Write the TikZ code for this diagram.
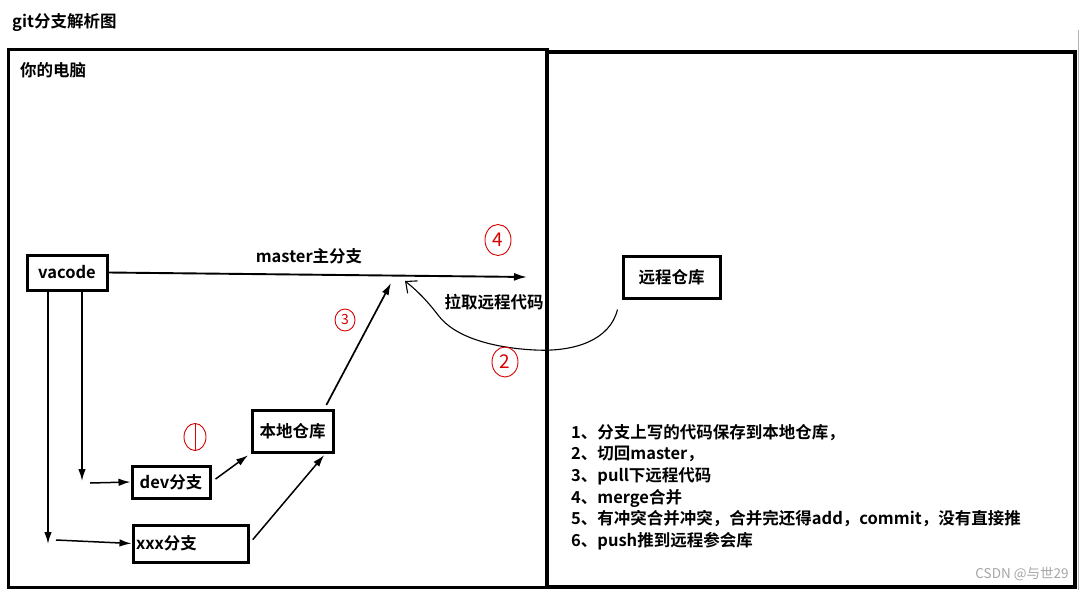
\documentclass[tikz,border=0pt]{standalone}
\usepackage{fontspec}
\setmainfont{Noto Sans CJK SC}[BoldFont=* Bold]
\usetikzlibrary{arrows.meta,shapes.geometric,calc}
\begin{document}
\begin{tikzpicture}[x=1pt,y=-1pt,
  box/.style={draw,line width=3pt,inner sep=0pt,font=\fontsize{16.5}{19}\selectfont\bfseries},
  lbl/.style={inner sep=0pt,font=\fontsize{16.5}{19}\selectfont\bfseries},
  arr/.style={line width=1.5pt,-{Latex[length=12pt,width=7.5pt]}},
  redc/.style={draw=red!85!black,line width=0.9pt,ellipse,inner sep=0pt,text=red!85!black,font=\fontsize{19}{20}\selectfont}]
\useasboundingbox (0,0) rectangle (1080,590);
\fill[white] (0,0) rectangle (1080,590);
% frames
\draw[line width=3pt] (8,49) rectangle (547,587);
\draw[line width=3.4pt] (547,52) rectangle (1075,587);
\draw[gray!60,line width=0.6pt] (1078,30) -- (1078,590);
% titles
\node[lbl,anchor=west] (title) at (12,22) {git分支解析图};
\node[lbl,anchor=west] (pc) at (20,70) {你的电脑};
% boxes
\node[box,minimum width=80pt,minimum height=35pt] (vacode) at (67,272.5) {vacode};
\node[box,minimum width=81pt,minimum height=42pt] (local) at (292.5,431) {本地仓库};
\node[box,minimum width=78pt,minimum height=32pt] (dev) at (171,482) {dev分支};
\node[box,minimum height=37pt,text width=109pt,inner xsep=3pt,align=left] (xxx) at (190.5,543.5) {xxx分支};
\node[box,minimum width=97pt,minimum height=42pt] (remote) at (671.5,277) {远程仓库};
% coordinates
\coordinate (mend) at (527,277);
\coordinate (v1s) at (48,290);
\coordinate (v1e) at (48,544);
\coordinate (v2s) at (82,290);
\coordinate (v2e) at (82,481);
\coordinate (h1s) at (90,483);
\coordinate (h2s) at (56,540);
\coordinate (lmend) at (391,283);
\coordinate (pend) at (405,281);
% master arrow
\draw[line width=1.9pt,-{Latex[length=13pt,width=8pt]}] (vacode.east) -- (mend);
\node[lbl] (mlabel) at (309,256) {master主分支};
% vertical arrows
\draw[arr] (v1s) -- (v1e);
\draw[arr] (v2s) -- (v2e);
\draw[arr] (h1s) -- (dev.west);
\draw[arr] (h2s) -- (xxx.west);
\draw[arr,shorten <=5pt,shorten >=3pt] (dev.east) -- (local.south west);
\draw[arr,shorten <=5pt,shorten >=2pt] (xxx.east) -- ($(local.south east)+(-9,0)$);
\draw[arr,line width=1.7pt,shorten <=4pt] ($(local.north east)+(-10,0)$) -- (lmend);
% pull curve
\draw[line width=1.1pt,-{Straight Barb[length=9pt,width=16pt]}] ($(remote.south west)+(-4,10)$)
  .. controls (610,340) and (575,352) .. (535,350)
  .. controls (495,348) and (455,338) .. (438,315)
  .. controls (425,298) and (415,289) .. (pend);
\node[lbl] (pull) at (494,302) {拉取远程代码};
% red circled numbers
\node[redc,minimum width=26pt,minimum height=31pt] (c4) at (498,240) {4};
\node[redc,minimum width=20pt,minimum height=22pt,font=\fontsize{14}{15}\selectfont] (c3) at (345,320) {3};
\node[redc,minimum width=22pt,minimum height=27pt] (c1) at (195,437) {};
\draw[red!85!black,line width=0.9pt] (c1.north) -- (c1.south);
\node[redc,minimum width=26pt,minimum height=30pt] (c2) at (505,362) {2};
% list
\node[lbl,anchor=north west,align=left,font=\fontsize{16.5}{21.6}\selectfont\bfseries] (list) at (571,424) {1、分支上写的代码保存到本地仓库，\\2、切回master，\\3、pull下远程代码\\4、merge合并\\5、有冲突合并冲突，合并完还得add，commit，没有直接推\\6、push推到远程参会库};
% watermark
\node[inner sep=0pt,text=gray!70,font=\fontsize{13.5}{14}\selectfont] (wm) at (1022,574) {CSDN @与世29};
\end{tikzpicture}
\end{document}
